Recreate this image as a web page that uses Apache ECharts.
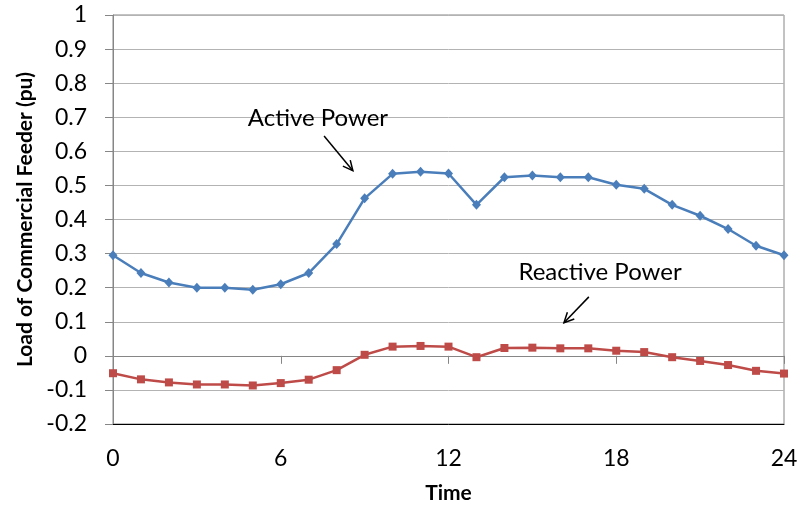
<!DOCTYPE html>
<html>
<head>
	<meta charset="utf-8">
	<title>Commercial Feeder Load</title>
	<script src="https://cdn.jsdelivr.net/npm/echarts@6/dist/echarts.min.js"></script>
</head>
<body style="margin:0">
	<div id="chart" style="width:808px;height:506px;"></div>
	<script type="text/javascript">
		// hours of the day
		var hours = [0, 1, 2, 3, 4, 5, 6, 7, 8, 9, 10, 11, 12, 13, 14, 15, 16, 17, 18, 19, 20, 21, 22, 23, 24]
		// active power (pu)
		var activePower = [0.295, 0.243, 0.215, 0.200, 0.200, 0.194, 0.210, 0.243, 0.328, 0.462, 0.534, 0.540, 0.535,
			0.443, 0.524, 0.529, 0.524, 0.524, 0.502, 0.490, 0.443, 0.411, 0.372, 0.323, 0.295]
		// reactive power (pu)
		var reactivePower = [-0.051, -0.069, -0.078, -0.084, -0.084, -0.087, -0.080, -0.070, -0.042, 0.003, 0.027, 0.029, 0.027,
			-0.004, 0.023, 0.024, 0.022, 0.022, 0.015, 0.011, -0.004, -0.015, -0.027, -0.044, -0.052]

		// annotations: text position and arrow [from, to], in data coords
		var notes = [
			{ text: 'Active Power', at: [7.33, 0.698], arrow: [[7.55, 0.645], [8.58, 0.543]] },
			{ text: 'Reactive Power', at: [17.42, 0.246], arrow: [[17.02, 0.173], [16.13, 0.097]] }
		]

		var font = 'Lato'
		var gray = '#868686'

		function pairs(ys) {
			return hours.map(function (h, i) { return [h, ys[i]] })
		}

		var myChart = echarts.init(document.getElementById('chart'))

		var option = {
			animation: false,
			textStyle: { fontFamily: font },
			grid: {
				left: 113, right: 24, top: 15, bottom: 82,
				outerBoundsMode: 'none', containLabel: false,
				show: true, borderColor: gray, borderWidth: 1
			},
			xAxis: [
				// axis line at y = 0 with the ticks
				{
					type: 'value', min: 0, max: 24, interval: 6,
					axisLine: { onZero: true, lineStyle: { color: gray, width: 1 } },
					axisTick: { show: true, length: 8, lineStyle: { color: gray } },
					axisLabel: { show: false },
					splitLine: { show: false }
				},
				// labels at the bottom
				{
					type: 'value', min: 0, max: 24, interval: 6, position: 'bottom',
					axisLine: { onZero: false, lineStyle: { color: '#000', width: 1 } },
					axisTick: { show: false },
					axisLabel: { margin: 23, fontSize: 23, color: '#000', fontFamily: font },
					splitLine: { show: false },
					name: 'Time', nameLocation: 'middle', nameGap: 59,
					nameTextStyle: { fontSize: 21, fontWeight: 'bold', color: '#000', fontFamily: font }
				}
			],
			yAxis: {
				type: 'value', min: -0.2, max: 1, interval: 0.1,
				axisLine: { show: true, onZero: false, lineStyle: { color: gray } },
				axisTick: { show: true, length: 8, lineStyle: { color: gray } },
				axisLabel: {
					margin: 26, fontSize: 23, color: '#000', fontFamily: font,
					formatter: function (v) { return String(+v.toFixed(1)) }
				},
				splitLine: { lineStyle: { color: '#b3b3b3', width: 1 } },
				name: 'Load of Commercial Feeder (pu)', nameLocation: 'middle', nameGap: 75,
				nameTextStyle: { fontSize: 21, fontWeight: 'bold', color: '#000', fontFamily: font }
			},
			series: [
				{
					name: 'Active Power', type: 'line', xAxisIndex: 0,
					data: pairs(activePower),
					symbol: 'diamond', symbolSize: [9, 10],
					lineStyle: { color: '#4a7ebb', width: 2.5 },
					itemStyle: { color: '#4a7ebb' }
				},
				{
					name: 'Reactive Power', type: 'line', xAxisIndex: 0,
					data: pairs(reactivePower),
					symbol: 'rect', symbolSize: 8,
					lineStyle: { color: '#be4b48', width: 2.5 },
					itemStyle: { color: '#be4b48' }
				}
			]
		}

		myChart.setOption(option)

		// text labels and open arrows for the two curves
		var graphics = []
		notes.forEach(function (n) {
			var p = myChart.convertToPixel({ xAxisIndex: 0, yAxisIndex: 0 }, n.at)
			var a = myChart.convertToPixel({ xAxisIndex: 0, yAxisIndex: 0 }, n.arrow[0])
			var b = myChart.convertToPixel({ xAxisIndex: 0, yAxisIndex: 0 }, n.arrow[1])
			graphics.push({
				type: 'text', x: p[0], y: p[1],
				style: { text: n.text, fontSize: 24, fontFamily: font, fill: '#000', align: 'center', verticalAlign: 'middle' }
			})
			graphics.push({
				type: 'line', shape: { x1: a[0], y1: a[1], x2: b[0], y2: b[1] },
				style: { stroke: '#000', lineWidth: 1.5 }
			})
			var ang = Math.atan2(b[1] - a[1], b[0] - a[0])
			var len = 11, spread = 0.45
			graphics.push({
				type: 'polyline',
				shape: {
					points: [
						[b[0] - len * Math.cos(ang - spread), b[1] - len * Math.sin(ang - spread)],
						[b[0], b[1]],
						[b[0] - len * Math.cos(ang + spread), b[1] - len * Math.sin(ang + spread)]
					]
				},
				style: { stroke: '#000', lineWidth: 1.5, fill: null }
			})
		})
		myChart.setOption({ graphic: graphics })
	</script>
</body>
</html>
